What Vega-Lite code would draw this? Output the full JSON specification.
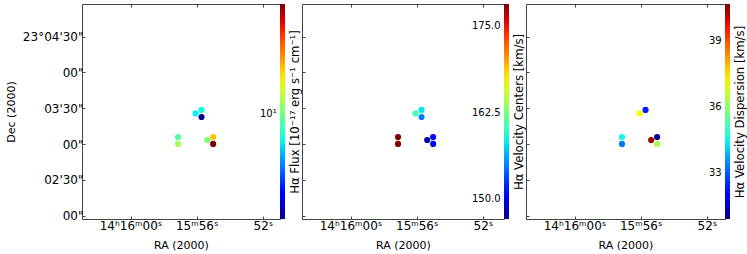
{
  "$schema": "https://vega.github.io/schema/vega-lite/v6.json",
  "padding": {"left": 4, "top": 3, "right": 0, "bottom": 0},
  "background": "white",
  "data": {"values": [
    {"id": "A", "ra": 56.07, "dec": 205.7, "log_flux": 0.896, "vel": 160.5, "disp": 37.15},
    {"id": "B", "ra": 55.71, "dec": 208.6, "log_flux": 0.904, "vel": 158.0, "disp": 32.37},
    {"id": "C", "ra": 55.71, "dec": 202.7, "log_flux": 0.61, "vel": 154.9, "disp": null},
    {"id": "D", "ra": 57.13, "dec": 185.9, "log_flux": 0.969, "vel": 178.2, "disp": 34.51},
    {"id": "E", "ra": 57.13, "dec": 180.1, "log_flux": 1.043, "vel": 178.0, "disp": 33.24},
    {"id": "F", "ra": 55.37, "dec": 183.4, "log_flux": 1.01, "vel": 148.3, "disp": 40.38},
    {"id": "G", "ra": 55.01, "dec": 185.9, "log_flux": 1.173, "vel": 151.1, "disp": 31.1},
    {"id": "H", "ra": 55.01, "dec": 180.1, "log_flux": 1.418, "vel": 151.2, "disp": 36.27}
  ]},
  "spacing": 22,
  "bounds": "flush",
  "resolve": {"scale": {"color": "independent", "x": "independent", "y": "independent"}, "legend": {"color": "independent"}},
  "hconcat": [
    {
      "width": 198, "height": 215,
      "resolve": {"axis": {"x": "independent", "y": "independent"}},
      "layer": [
        {
          "mark": {"type": "circle", "size": 38, "opacity": 1},
          "encoding": {
            "x": {"field": "ra", "type": "quantitative", "scale": {"domain": [50.97, 62.93], "reverse": true, "nice": false, "zero": false},
                  "axis": {"values": [60, 56, 52], "labelExpr": "datum.value == 60 ? '14ʰ16ᵐ00ˢ' : datum.value == 56 ? '15ᵐ56ˢ' : '52ˢ'", "title": "RA (2000)"}},
            "y": {"field": "dec", "type": "quantitative", "scale": {"domain": [117.2, 297.4], "nice": false, "zero": false},
                  "axis": {"values": [120, 150, 180, 210, 240, 270], "labelExpr": "datum.value == 270 ? '23°04\\'30\"' : datum.value == 210 ? '03\\'30\"' : datum.value == 150 ? '02\\'30\"' : '00\"'", "title": "Dec (2000)"}},
            "color": {"field": "log_flux", "type": "quantitative",
                      "scale": {"interpolate": "rgb", "domain": [0.602, 0.6918, 0.704, 0.8794, 0.8876, 0.908, 1.1242, 1.1324, 1.1406, 1.3282, 1.3446, 1.418],
                                "range": ["#000080", "#0000ff", "#0000ff", "#00dbff", "#00e5f7", "#15ffe2", "#eeff08", "#f7f500", "#ffec00", "#ff1300", "#e80000", "#800000"]},
                      "legend": {"values": [1], "labelExpr": "'10¹'", "title": null, "offset": -21, "labelOffset": -25}}
          }
        },
        {
          "mark": {"type": "circle", "opacity": 0},
          "encoding": {
            "x": {"field": "ra", "type": "quantitative", "scale": {"domain": [50.97, 62.93], "reverse": true, "nice": false, "zero": false},
                  "axis": {"orient": "top", "values": [60, 56, 52], "labels": false, "title": null}},
            "y": {"field": "dec", "type": "quantitative", "scale": {"domain": [117.2, 297.4], "nice": false, "zero": false},
                  "axis": {"orient": "right", "ticks": false, "labels": false, "minExtent": 0, "title": "Hα Flux [10⁻¹⁷ erg s⁻¹ cm⁻¹]",
                           "titleAngle": 270, "titleBaseline": "top", "titlePadding": 9, "titleFontSize": 11.7}}
          }
        }
      ]
    },
    {
      "width": 202, "height": 215,
      "resolve": {"axis": {"x": "independent", "y": "independent"}},
      "layer": [
        {
          "mark": {"type": "circle", "size": 38, "opacity": 1},
          "encoding": {
            "x": {"field": "ra", "type": "quantitative", "scale": {"domain": [50.73, 62.93], "reverse": true, "nice": false, "zero": false},
                  "axis": {"values": [60, 56, 52], "labelExpr": "datum.value == 60 ? '14ʰ16ᵐ00ˢ' : datum.value == 56 ? '15ᵐ56ˢ' : '52ˢ'", "title": "RA (2000)"}},
            "y": {"field": "dec", "type": "quantitative", "scale": {"domain": [117.2, 297.4], "nice": false, "zero": false},
                  "axis": {"values": [120, 150, 180, 210, 240, 270], "labels": false, "title": null}},
            "color": {"field": "vel", "type": "quantitative",
                      "scale": {"interpolate": "rgb", "domain": [147.1, 150.52, 150.99, 157.67, 157.99, 158.76, 167.0, 167.32, 167.63, 174.78, 175.4, 178.2],
                                "range": ["#000080", "#0000ff", "#0000ff", "#00dbff", "#00e5f7", "#15ffe2", "#eeff08", "#f7f500", "#ffec00", "#ff1300", "#e80000", "#800000"]},
                      "legend": {"values": [150, 162.5, 175], "format": ".1f", "title": null, "offset": -21, "labelOffset": -37}}
          }
        },
        {
          "mark": {"type": "circle", "opacity": 0},
          "encoding": {
            "x": {"field": "ra", "type": "quantitative", "scale": {"domain": [50.73, 62.93], "reverse": true, "nice": false, "zero": false},
                  "axis": {"orient": "top", "values": [60, 56, 52], "labels": false, "title": null}},
            "y": {"field": "dec", "type": "quantitative", "scale": {"domain": [117.2, 297.4], "nice": false, "zero": false},
                  "axis": {"orient": "right", "ticks": false, "labels": false, "minExtent": 0, "title": "Hα Velocity Centers [km/s]",
                           "titleAngle": 270, "titleBaseline": "top", "titlePadding": 9, "titleFontSize": 11.7}}
          }
        }
      ]
    },
    {
      "width": 199, "height": 215,
      "resolve": {"axis": {"x": "independent", "y": "independent"}},
      "transform": [{"filter": "datum.disp != null"}],
      "layer": [
        {
          "mark": {"type": "circle", "size": 38, "opacity": 1},
          "encoding": {
            "x": {"field": "ra", "type": "quantitative", "scale": {"domain": [50.91, 62.93], "reverse": true, "nice": false, "zero": false},
                  "axis": {"values": [60, 56, 52], "labelExpr": "datum.value == 60 ? '14ʰ16ᵐ00ˢ' : datum.value == 56 ? '15ᵐ56ˢ' : '52ˢ'", "title": "RA (2000)"}},
            "y": {"field": "dec", "type": "quantitative", "scale": {"domain": [117.2, 297.4], "nice": false, "zero": false},
                  "axis": {"values": [120, 150, 180, 210, 240, 270], "labels": false, "title": null}},
            "color": {"field": "disp", "type": "quantitative",
                      "scale": {"interpolate": "rgb", "domain": [30.9, 31.975, 32.121, 34.222, 34.32, 34.564, 37.153, 37.251, 37.348, 39.595, 39.791, 40.67],
                                "range": ["#000080", "#0000ff", "#0000ff", "#00dbff", "#00e5f7", "#15ffe2", "#eeff08", "#f7f500", "#ffec00", "#ff1300", "#e80000", "#800000"]},
                      "legend": {"values": [33, 36, 39], "title": null, "offset": -21, "labelOffset": -21}}
          }
        },
        {
          "mark": {"type": "circle", "opacity": 0},
          "encoding": {
            "x": {"field": "ra", "type": "quantitative", "scale": {"domain": [50.91, 62.93], "reverse": true, "nice": false, "zero": false},
                  "axis": {"orient": "top", "values": [60, 56, 52], "labels": false, "title": null}},
            "y": {"field": "dec", "type": "quantitative", "scale": {"domain": [117.2, 297.4], "nice": false, "zero": false},
                  "axis": {"orient": "right", "ticks": false, "labels": false, "minExtent": 0, "title": "Hα Velocity Dispersion [km/s]",
                           "titleAngle": 270, "titleBaseline": "top", "titlePadding": 9, "titleFontSize": 11.7}}
          }
        }
      ]
    }
  ],
  "config": {
    "font": "DejaVu Sans",
    "view": {"stroke": "#444", "strokeWidth": 1},
    "axis": {"domain": false, "grid": false, "tickSize": -3, "tickColor": "#444", "tickWidth": 1,
             "labelFont": "DejaVu Sans", "labelFontSize": 12, "labelColor": "#000", "labelPadding": 2,
             "titleFont": "DejaVu Sans", "titleFontSize": 11, "titleFontWeight": "normal", "titleColor": "#000"},
    "axisX": {"titlePadding": 8, "labelPadding": 4, "labelFlush": false},
    "axisY": {"titlePadding": 6},
    "legend": {"orient": "right", "padding": 0, "gradientLength": 215, "gradientThickness": 5,
               "gradientStrokeWidth": 0, "labelFontSize": 10,
               "labelFont": "DejaVu Sans", "labelColor": "#000", "labelOverlap": false}
  }
}
